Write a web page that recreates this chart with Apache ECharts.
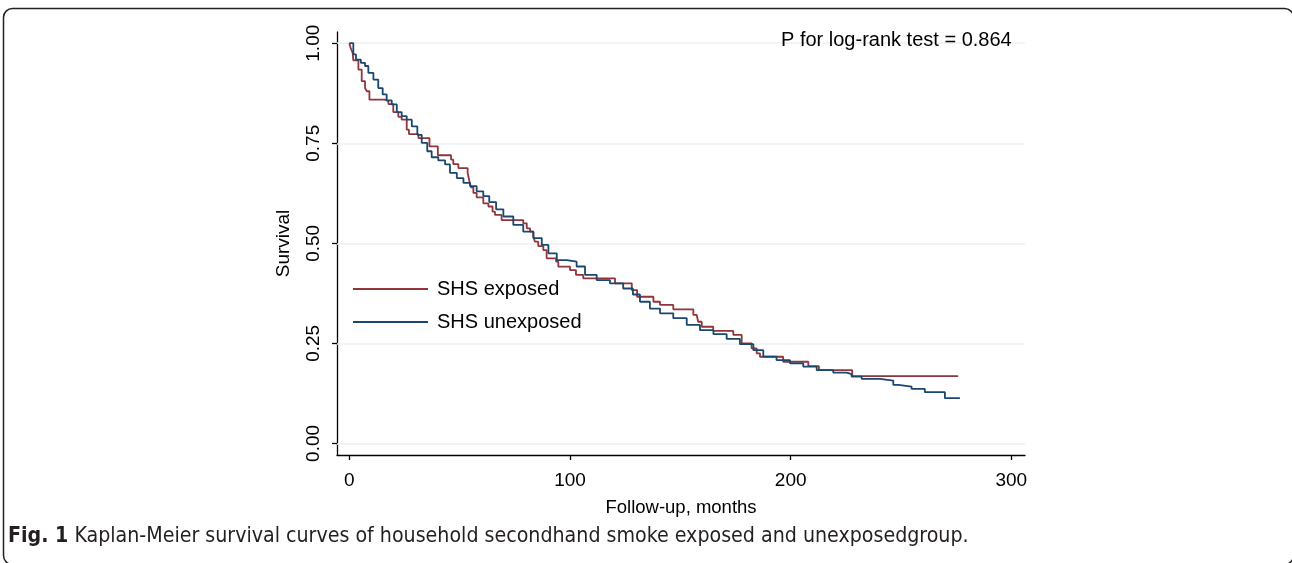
<!DOCTYPE html>
<html>
<head>
<meta charset="utf-8">
<script src="https://cdn.jsdelivr.net/npm/echarts@6/dist/echarts.min.js"></script>
<style>
html,body{margin:0;padding:0;background:#fff;}
#chart{width:1292px;height:563px;}
</style>
</head>
<body>
<div id="chart"></div>
<script>
// ---- data ----
const exposedTime = [0,0.6,1.5,1.8,4.1,5.6,7.1,7.9,9.1,16.2,17.7,19.9,22.2,23.7,26.0,27.0,31.3,36.3,40.1,46.1,47.1,49.4,53.6,54.4,55.1,56.2,57.7,60.7,63.0,64.9,66.0,69.0,78.8,80.4,81.9,83.4,84.1,85.6,87.9,89.4,93.7,94.7,100.0,102.7,106.0,120.4,128.0,130.4,137.8,140.8,146.8,155.9,157.4,158.1,159.7,164.9,174.0,177.8,182.3,184.6,186.1,196.6,208.0,212.8,227.9,275.9];
const exposedSurv = [1,0.988,0.976,0.957,0.934,0.905,0.888,0.880,0.859,0.855,0.848,0.828,0.816,0.809,0.784,0.773,0.763,0.742,0.720,0.709,0.698,0.688,0.676,0.655,0.640,0.626,0.615,0.600,0.592,0.579,0.571,0.558,0.550,0.5375,0.529,0.517,0.504,0.493,0.483,0.4625,0.454,0.4415,0.433,0.421,0.4125,0.400,0.383,0.3665,0.354,0.346,0.335,0.321,0.3165,0.304,0.2915,0.281,0.271,0.250,0.2375,0.225,0.2165,0.204,0.193,0.183,0.168,0.168];

const unexposedTime = [0,1.8,3.0,5.2,7.1,8.6,10.9,13.1,15.1,16.9,19.2,21.5,23.7,26.0,28.3,30.8,32.8,35.3,37.3,40.3,43.4,45.6,48.7,51.7,54.7,57.7,60.7,63.4,66.5,69.8,74.3,78.8,83.4,87.2,90.2,94.0,98.5,103.0,106.8,112.1,118.1,124.1,128.5,131.7,136.2,140.8,146.8,152.9,158.9,165.0,171.0,177.0,183.1,187.6,193.6,199.7,205.7,211.8,219.3,225.4,227.6,232.2,240.5,246.5,248.8,254.8,260.8,269.9,276.7];
const unexposedSurv = [1,0.972,0.959,0.951,0.943,0.926,0.909,0.888,0.872,0.857,0.847,0.828,0.818,0.809,0.792,0.771,0.751,0.730,0.715,0.707,0.697,0.676,0.663,0.651,0.643,0.630,0.618,0.603,0.585,0.567,0.546,0.529,0.513,0.496,0.475,0.458,0.454,0.442,0.421,0.408,0.400,0.387,0.372,0.354,0.337,0.325,0.313,0.296,0.283,0.273,0.261,0.248,0.233,0.217,0.208,0.200,0.192,0.183,0.177,0.173,0.167,0.161,0.157,0.146,0.142,0.136,0.128,0.113,0.113];

const xTicks = [0,100,200,300];
const yTicks = [0,0.25,0.5,0.75,1];
const seriesNames = ['SHS exposed','SHS unexposed'];
const pText = 'P for log-rank test = 0.864';
const xTitle = 'Follow-up, months';
const yTitle = 'Survival';
const captionBold = 'Fig. 1';
const captionText = ' Kaplan-Meier survival curves of household secondhand smoke exposed and unexposedgroup.';

// ---- build ----
const zip = (a,b) => a.map((v,i)=>[v,b[i]]);
const FONT = '"Liberation Sans", Arial, Helvetica, sans-serif';
const CAPFONT = '"DejaVu Sans Condensed", "Liberation Sans Narrow", sans-serif';
const RED = '#90353b';
const BLUE = '#1a476f';
const GRID = '#eaf2f3';

const chart = echarts.init(document.getElementById('chart'), null, {renderer:'canvas'});
chart.setOption({
  animation:false,
  backgroundColor:'#fff',
  textStyle:{fontFamily:FONT},
  grid:{left:337, right:267, top:32, bottom:108, containLabel:false},
  xAxis:{
    type:'value', min:-5.6, max:306.2,
    name:xTitle, nameLocation:'middle', nameGap:43,
    nameTextStyle:{fontFamily:FONT, fontSize:18.5, color:'#000'},
    axisLine:{show:true, onZero:false, lineStyle:{color:'#000', width:1.3}},
    axisTick:{show:true, length:5, customValues:xTicks, lineStyle:{color:'#000', width:1.3}},
    axisLabel:{customValues:xTicks, fontFamily:FONT, fontSize:19, color:'#000', margin:16},
    splitLine:{show:false}
  },
  yAxis:{
    type:'value', min:-0.029, max:1.028,
    name:yTitle, nameLocation:'middle', nameGap:44, nameRotate:90,
    nameTextStyle:{fontFamily:FONT, fontSize:19, color:'#000'},
    axisLine:{show:true, onZero:false, lineStyle:{color:'#000', width:1.3}},
    axisTick:{show:true, length:5, customValues:yTicks, lineStyle:{color:'#000', width:1.3}},
    axisLabel:{customValues:yTicks, rotate:90, fontFamily:FONT, fontSize:19, color:'#000', margin:14,
      formatter:v=>Number(v).toFixed(2)},
    splitLine:{show:false}
  },
  legend:{
    orient:'vertical', left:352, top:279, padding:0, itemWidth:75, itemHeight:20, itemGap:13,
    itemStyle:{opacity:0},
    textStyle:{fontFamily:FONT, fontSize:20, color:'#000', padding:[0,0,0,4]},
    data:seriesNames
  },
  graphic:[
    {type:'text', left:781, top:30, z:100, style:{text:pText, font:'20px '+FONT, fill:'#000'}},
    {type:'rect', shape:{x:3.5, y:8.5, width:1290, height:556, r:9}, style:{fill:'none', stroke:'#222', lineWidth:1.5}, z:-1},
    {type:'text', left:8, top:526, z:100, style:{
      rich:{b:{font:'bold 21.2px '+CAPFONT, fill:'#231f20'},
            n:{font:'21.2px '+CAPFONT, fill:'#231f20'}},
      text:'{b|'+captionBold+'}{n|'+captionText+'}'}}
  ],
  series:[
    {
      name:'grid', type:'line', data:[], silent:true, z:1,
      markLine:{silent:true, symbol:'none', label:{show:false}, z:1,
        lineStyle:{color:GRID, width:1.5, type:'solid'},
        data:yTicks.map(v=>({yAxis:v}))}
    },
    {name:seriesNames[0], type:'line', step:'end', symbol:'none', showSymbol:false,
      data:zip(exposedTime, exposedSurv), lineStyle:{color:RED, width:1.8}, itemStyle:{color:RED}, z:3},
    {name:seriesNames[1], type:'line', step:'end', symbol:'none', showSymbol:false,
      data:zip(unexposedTime, unexposedSurv), lineStyle:{color:BLUE, width:1.8}, itemStyle:{color:BLUE}, z:4}
  ]
});
</script>
</body>
</html>
